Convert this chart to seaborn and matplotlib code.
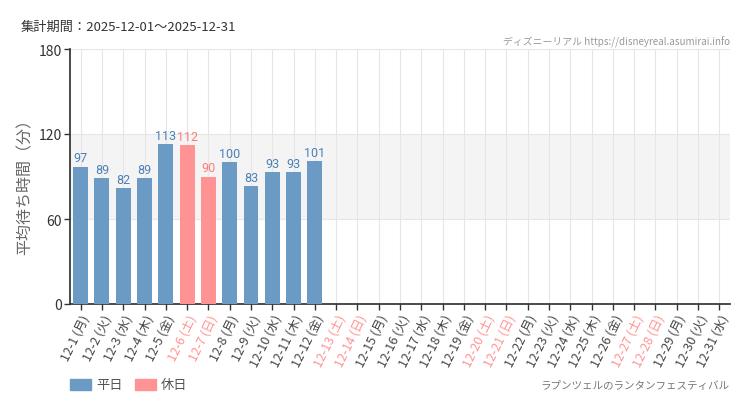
import matplotlib
matplotlib.use("Agg")
import matplotlib.pyplot as plt
import seaborn as sns
import pandas as pd

# chart data
dates = [f"12-{d}" for d in range(1, 32)]
weekdays = ["月", "火", "水", "木", "金", "土", "日"]
day_names = [weekdays[i % 7] for i in range(31)]
wait_values = [97, 89, 82, 89, 113, 112, 90, 100, 83, 93, 93, 101] + [None] * 19
day_types = ["休日" if n in ("土", "日") else "平日" for n in day_names]

BLUE = "#6b9ac4"
PINK = "#ff9292"
BLUE_TXT = "#4a80b8"
PINK_TXT = "#ff7a7a"

sns.set_theme(style="white")
plt.rcParams["font.family"] = ["Noto Sans CJK JP", "DejaVu Sans"]

df = pd.DataFrame({
    "date": [f"{d} ({n})" for d, n in zip(dates, day_names)],
    "wait": wait_values,
    "type": day_types,
})

fig = plt.figure(figsize=(7.5, 4.1), dpi=100)
ax = fig.add_axes([70 / 750, 1 - 305 / 410, 660 / 750, 255 / 410])

ax.axhspan(60, 120, color="#f4f4f4", lw=0, zorder=0)
sns.barplot(data=df, x="date", y="wait", hue="type", hue_order=["平日", "休日"],
            palette={"平日": BLUE, "休日": PINK}, dodge=False, width=0.7,
            saturation=1, linewidth=0, ax=ax, zorder=3, legend=False)

ax.set_ylim(0, 180)
ax.set_xlim(-0.5, 30.5)
ax.set_yticks([0, 60, 120, 180])
ax.tick_params(axis="y", labelsize=10, colors="#333333", length=4, width=1,
               direction="out", left=True, pad=2)
ax.tick_params(axis="x", length=4, width=1, direction="out", bottom=True, pad=2,
               color="#333333")
for x in range(31):
    ax.axvline(x, color="#e6e6e6", lw=0.8, zorder=1)
for y in (60, 120, 180):
    ax.axhline(y, color="#e6e6e6", lw=0.8, zorder=1)

for s in ("top", "right"):
    ax.spines[s].set_visible(False)
ax.spines["left"].set_color("#333333")
ax.spines["bottom"].set_color("#333333")

ax.set_xticks(range(31))
ax.set_xticklabels(df["date"], rotation=64, ha="right", rotation_mode="anchor", fontsize=9)
for lbl, t in zip(ax.get_xticklabels(), day_types):
    lbl.set_color(PINK if t == "休日" else "#444444")

ax.set_xlabel("")
ax.set_ylabel("平均待ち時間（分）", fontsize=11.5, color="#666666")
ax.yaxis.set_label_coords(-36 / 660, 0.48)

for i, (v, t) in enumerate(zip(wait_values, day_types)):
    if v is None:
        continue
    ax.text(i, v + 1.5, str(v), ha="center", va="bottom", fontsize=9,
            family="Roboto", color=PINK_TXT if t == "休日" else BLUE_TXT, zorder=4)

fig.text(21 / 750, 1 - 27 / 410, "集計期間：2025-12-01～2025-12-31", fontsize=9.5,
         color="#333333", va="center")
fig.text(730 / 750, 1 - 42 / 410, "ディズニーリアル https://disneyreal.asumirai.info", fontsize=7.1,
         color="#999999", ha="right", va="center")
fig.text(730 / 750, 1 - 386 / 410, "ラプンツェルのランタンフェスティバル", fontsize=7.6,
         color="#777777", ha="right", va="center")

# legend
fig.patches.append(plt.Rectangle((70 / 750, 1 - 391 / 410), 21 / 750, 11 / 410,
                                 transform=fig.transFigure, color=BLUE))
fig.text(96 / 750, 1 - 386 / 410, "平日", fontsize=9.5, color="#555555", va="center")
fig.patches.append(plt.Rectangle((135 / 750, 1 - 391 / 410), 21 / 750, 11 / 410,
                                 transform=fig.transFigure, color=PINK))
fig.text(161 / 750, 1 - 386 / 410, "休日", fontsize=9.5, color="#555555", va="center")

fig.savefig("out.png", dpi=100)
